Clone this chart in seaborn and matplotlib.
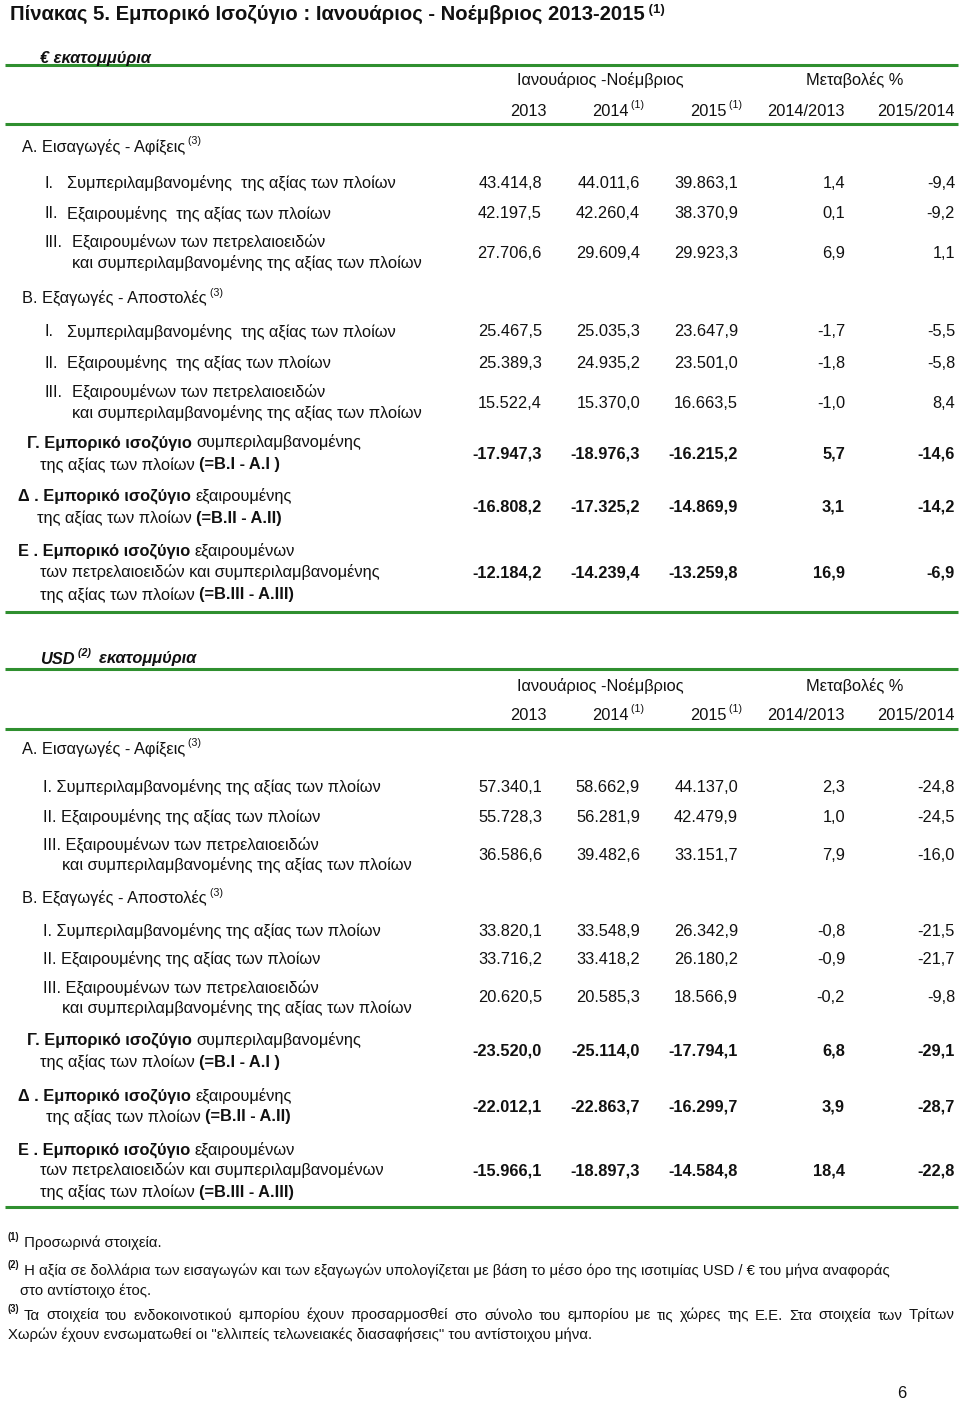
import matplotlib
matplotlib.use('Agg')
import matplotlib.pyplot as plt
import seaborn as sns

# values, Jan-Nov, in the order of the table rows (A.I, A.II, A.III, B.I, B.II, B.III, Γ, Δ, Ε)
eur_2013 = [43414.8, 42197.5, 27706.6, 25467.5, 25389.3, 15522.4, -17947.3, -16808.2, -12184.2]
eur_2014 = [44011.6, 42260.4, 29609.4, 25035.3, 24935.2, 15370.0, -18976.3, -17325.2, -14239.4]
eur_2015 = [39863.1, 38370.9, 29923.3, 23647.9, 23501.0, 16663.5, -16215.2, -14869.9, -13259.8]
eur_ch_14 = [1.4, 0.1, 6.9, -1.7, -1.8, -1.0, 5.7, 3.1, 16.9]
eur_ch_15 = [-9.4, -9.2, 1.1, -5.5, -5.8, 8.4, -14.6, -14.2, -6.9]

usd_2013 = [57340.1, 55728.3, 36586.6, 33820.1, 33716.2, 20620.5, -23520.0, -22012.1, -15966.1]
usd_2014 = [58662.9, 56281.9, 39482.6, 33548.9, 33418.2, 20585.3, -25114.0, -22863.7, -18897.3]
usd_2015 = [44137.0, 42479.9, 33151.7, 26342.9, 26180.2, 18566.9, -17794.1, -16299.7, -14584.8]
usd_ch_14 = [2.3, 1.0, 7.9, -0.8, -0.9, -0.2, 6.8, 3.9, 18.4]
usd_ch_15 = [-24.8, -24.5, -16.0, -21.5, -21.7, -9.8, -29.1, -28.7, -22.8]

years = ['2013', '2014', '2015']
changes = ['2014/2013', '2015/2014']

sns.set_theme(style='white')
plt.rcParams['font.family'] = ['Liberation Sans', 'DejaVu Sans']
NARROW = ['Liberation Sans Narrow', 'Liberation Sans', 'DejaVu Sans']

fig = plt.figure(figsize=(9.6, 14.03), dpi=100)
ax = fig.add_axes([0, 0, 1, 1])
ax.set_xlim(0, 960)
ax.set_ylim(1403, 0)
ax.axis('off')
renderer = fig.canvas.get_renderer()

INK = '#111111'
GREEN = '#2f8f2f'
FS = 11.8


def fmt(v):
    s = f'{v:,.1f}'
    return s.replace(',', 'X').replace('.', ',').replace('X', '.')


def runs(x, y, parts, size=FS, family=None):
    # parts: (text, bold, italic, superscript)
    for text, bold, italic, sup in parts:
        fs = size * 0.65 if sup else size
        yy = y - 7 if sup else y
        t = ax.text(x, yy + 5.5, text, fontsize=fs, color=INK,
                    fontweight='bold' if bold else 'normal',
                    fontstyle='italic' if italic else 'normal',
                    va='baseline', ha='left', family=family)
        x += t.get_window_extent(renderer).width
    return x


def num(x, y, s, bold=False):
    ax.text(x, y + 5.5, s, fontsize=FS, color=INK, ha='right', va='baseline',
            fontweight='bold' if bold else 'normal')


def rule(y):
    ax.plot([5, 958], [y, y], color=GREEN, lw=2.2, solid_capstyle='butt')


def section(unit_parts, top, rows_y, label_lines, cols):
    unit_y, head_y, year_y, r1, r2, a_y, b_y, r3 = top
    runs(40, unit_y, unit_parts)
    rule(r1)
    rule(r2)
    rule(r3)
    ax.text(600, head_y + 5.5, 'Ιανουάριος -Νοέμβριος', fontsize=FS, color=INK,
            ha='center', va='baseline')
    ax.text(855, head_y + 5.5, 'Μεταβολές %', fontsize=FS, color=INK,
            ha='center', va='baseline')
    runs(510, year_y, [(years[0], False, False, False)])
    runs(592, year_y, [(years[1], False, False, False), (' (1)', False, False, True)])
    runs(690, year_y, [(years[2], False, False, False), (' (1)', False, False, True)])
    ax.text(845, year_y + 5.5, changes[0], fontsize=FS, color=INK, ha='right', va='baseline')
    ax.text(955, year_y + 5.5, changes[1], fontsize=FS, color=INK, ha='right', va='baseline')
    runs(22, a_y, [('Α. Εισαγωγές - Αφίξεις', False, False, False), (' (3)', False, False, True)])
    runs(22, b_y, [('Β. Εξαγωγές - Αποστολές', False, False, False), (' (3)', False, False, True)])

    right = [542, 640, 738, 845, 955]
    for i, y in enumerate(rows_y):
        bold = i >= 6
        for c, col in enumerate(cols):
            num(right[c], y, fmt(col[i]), bold)
    for (x, y, parts) in label_lines:
        runs(x, y, parts)


# ---------- € section
eur_labels = []
for yc in [182, 331]:
    eur_labels += [(45, yc, [('I.', False, False, False)]),
                   (67, yc, [('Συμπεριλαμβανομένης  της αξίας των πλοίων', False, False, False)]),
                   (45, yc + 31, [('II.', False, False, False)]),
                   (67, yc + 31, [('Εξαιρουμένης  της αξίας των πλοίων', False, False, False)])]
for yc in [252, 402]:
    eur_labels += [(45, yc - 10.5, [('III.', False, False, False)]),
                   (72, yc - 10.5, [('Εξαιρουμένων των πετρελαιοειδών', False, False, False)]),
                   (72, yc + 10.5, [('και συμπεριλαμβανομένης της αξίας των πλοίων', False, False, False)])]
eur_labels += [
    (27, 442, [('Γ. Εμπορικό ισοζύγιο ', True, False, False), ('συμπεριλαμβανομένης', False, False, False)]),
    (40, 464, [('της αξίας των πλοίων ', False, False, False), ('(=B.I - A.I )', True, False, False)]),
    (18, 495, [('Δ . Εμπορικό ισοζύγιο ', True, False, False), ('εξαιρουμένης', False, False, False)]),
    (37, 517, [('της αξίας των πλοίων ', False, False, False), ('(=B.II - A.II)', True, False, False)]),
    (18, 550, [('Ε . Εμπορικό ισοζύγιο ', True, False, False), ('εξαιρουμένων', False, False, False)]),
    (40, 572, [('των πετρελαιοειδών και συμπεριλαμβανομένης', False, False, False)]),
    (40, 594, [('της αξίας των πλοίων ', False, False, False), ('(=B.III - A.III)', True, False, False)]),
]

# title
runs(10, 14, [('Πίνακας 5. Εμπορικό Ισοζύγιο : Ιανουάριος - Νοέμβριος 2013-2015', True, False, False),
              (' (1)', True, False, True)], size=14.6)

section([('€ εκατομμύρια', True, True, False)],
        (57, 80, 110, 65, 124, 146, 297, 612),
        [182, 213, 252, 331, 362, 402, 453, 506, 572],
        eur_labels,
        [eur_2013, eur_2014, eur_2015, eur_ch_14, eur_ch_15])

# ---------- USD section
usd_labels = []
for yc, yc2 in [(786, 816), (930, 958)]:
    usd_labels += [(43, yc, [('I. Συμπεριλαμβανομένης της αξίας των πλοίων', False, False, False)]),
                   (43, yc2, [('II. Εξαιρουμένης της αξίας των πλοίων', False, False, False)])]
for yc in [854, 997]:
    usd_labels += [(43, yc - 10, [('III. Εξαιρουμένων των πετρελαιοειδών', False, False, False)]),
                   (62, yc + 10, [('και συμπεριλαμβανομένης της αξίας των πλοίων', False, False, False)])]
usd_labels += [
    (27, 1039, [('Γ. Εμπορικό ισοζύγιο ', True, False, False), ('συμπεριλαμβανομένης', False, False, False)]),
    (40, 1061, [('της αξίας των πλοίων ', False, False, False), ('(=B.I - A.I )', True, False, False)]),
    (18, 1095, [('Δ . Εμπορικό ισοζύγιο ', True, False, False), ('εξαιρουμένης', False, False, False)]),
    (46, 1116, [('της αξίας των πλοίων ', False, False, False), ('(=B.II - A.II)', True, False, False)]),
    (18, 1149, [('Ε . Εμπορικό ισοζύγιο ', True, False, False), ('εξαιρουμένων', False, False, False)]),
    (40, 1170, [('των πετρελαιοειδών και συμπεριλαμβανομένων', False, False, False)]),
    (40, 1191, [('της αξίας των πλοίων ', False, False, False), ('(=B.III - A.III)', True, False, False)]),
]

section([('USD', True, True, False), (' (2)', True, True, True), ('  εκατομμύρια', True, True, False)],
        (658, 685, 714, 669, 729, 748, 897, 1207),
        [786, 816, 854, 930, 958, 997, 1050, 1106, 1170],
        usd_labels,
        [usd_2013, usd_2014, usd_2015, usd_ch_14, usd_ch_15])

# ---------- footnotes
FN = 10.7
runs(8, 1242, [('(1)', True, False, True), (' Προσωρινά στοιχεία.', False, False, False)], size=FN, family=NARROW)
runs(8, 1270, [('(2)', True, False, True),
               (' Η αξία σε δολλάρια των εισαγωγών και των εξαγωγών υπολογίζεται με βάση το μέσο όρο '
                'της ισοτιμίας USD / € του μήνα αναφοράς', False, False, False)], size=FN, family=NARROW)
runs(20, 1290, [('στο αντίστοιχο έτος.', False, False, False)], size=FN, family=NARROW)

# justified line of note (3)
x0 = runs(8, 1314, [('(3)', True, False, True)], size=FN, family=NARROW) + 4
words = ('Τα στοιχεία του ενδοκοινοτικού εμπορίου έχουν προσαρμοσθεί στο σύνολο του '
         'εμπορίου με τις χώρες της Ε.Ε. Στα στοιχεία των Τρίτων').split()
objs = [ax.text(0, 1314 + 5.5, w, fontsize=FN, color=INK, va='baseline', ha='left', family=NARROW)
        for w in words]
widths = [o.get_window_extent(renderer).width for o in objs]
gap = (955 - x0 - sum(widths)) / (len(words) - 1)
x = x0
for o, w in zip(objs, widths):
    o.set_x(x)
    x += w + gap
runs(8, 1333, [('Χωρών έχουν ενσωματωθεί οι "ελλιπείς τελωνειακές διασαφήσεις" του αντίστοιχου μήνα.',
                False, False, False)], size=FN, family=NARROW)

ax.text(902, 1393 + 5.5, '6', fontsize=FS, color=INK, ha='center', va='baseline')

fig.savefig('out.png', dpi=100, facecolor='white')
